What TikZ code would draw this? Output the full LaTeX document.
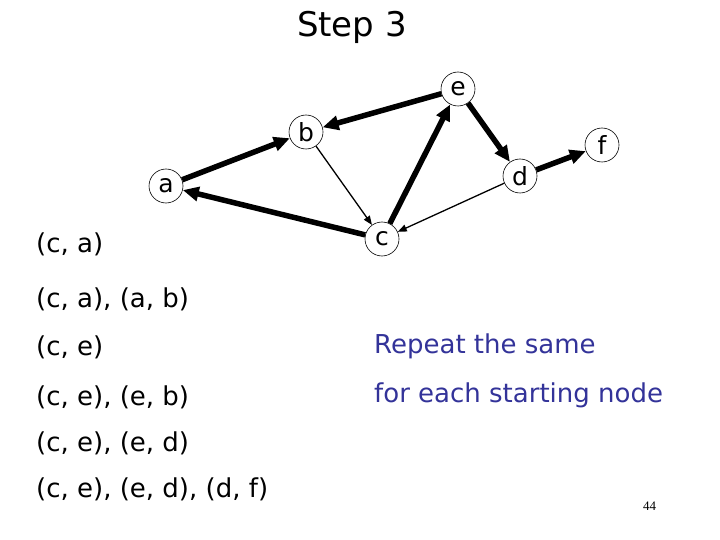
\documentclass[tikz,border=0pt]{standalone}
\usepackage{fontspec}
\setmainfont{DejaVu Sans}
\newfontfamily\serifnum{Liberation Serif}
\usetikzlibrary{arrows.meta}
\definecolor{textblue}{HTML}{333399}
\tikzset{
  vtx/.style={circle, draw=black, line width=0.6pt, fill=white, minimum size=34pt, inner sep=0pt, font=\fontsize{25}{25}\selectfont},
  thickedge/.style={line width=5.5pt, -{Triangle[length=16pt,width=14pt]}},
  thinedge/.style={line width=1.3pt, -{Triangle[length=9pt,width=7pt]}},
  lbl/.style={anchor=base west, inner sep=0pt, font=\fontsize{26}{26}\selectfont},
  bluelbl/.style={lbl, text=textblue},
}
\begin{document}
\begin{tikzpicture}[x=1pt,y=-1pt]
\useasboundingbox (0,0) rectangle (720,540);
\node[anchor=base, inner sep=0pt, font=\fontsize{34}{34}\selectfont] (title) at (352,37) {Step 3};
\node[vtx] (a) at (166,186) {a};
\node[vtx] (b) at (306,132) {b};
\node[vtx] (e) at (458,89) {e};
\node[vtx] (d) at (520,176) {d};
\node[vtx] (f) at (602,145) {f};
\node[vtx] (c) at (382,239) {c};
\draw[thickedge] (a) -- (b);
\draw[thickedge] (e) -- (b);
\draw[thickedge] (c) -- (e);
\draw[thickedge] (c) -- (a);
\draw[thickedge] (e) -- (d);
\draw[thickedge] (d) -- (f);
\draw[thinedge] (b) -- (c);
\draw[thinedge] (d) -- (c);
\node[lbl] (l1) at (36,252) {(c, a)};
\node[lbl] (l2) at (36,307) {(c, a), (a, b)};
\node[lbl] (l3) at (36,355) {(c, e)};
\node[lbl] (l4) at (36,405) {(c, e), (e, b)};
\node[lbl] (l5) at (36,451) {(c, e), (e, d)};
\node[lbl] (l6) at (36,497) {(c, e), (e, d), (d, f)};
\node[bluelbl] (r1) at (374,353) {Repeat the same};
\node[bluelbl] (r2) at (374,402) {for each starting node};
\node[anchor=base west, inner sep=0pt, font=\serifnum\fontsize{13}{13}\selectfont] (pg) at (643,510) {44};
\end{tikzpicture}
\end{document}
